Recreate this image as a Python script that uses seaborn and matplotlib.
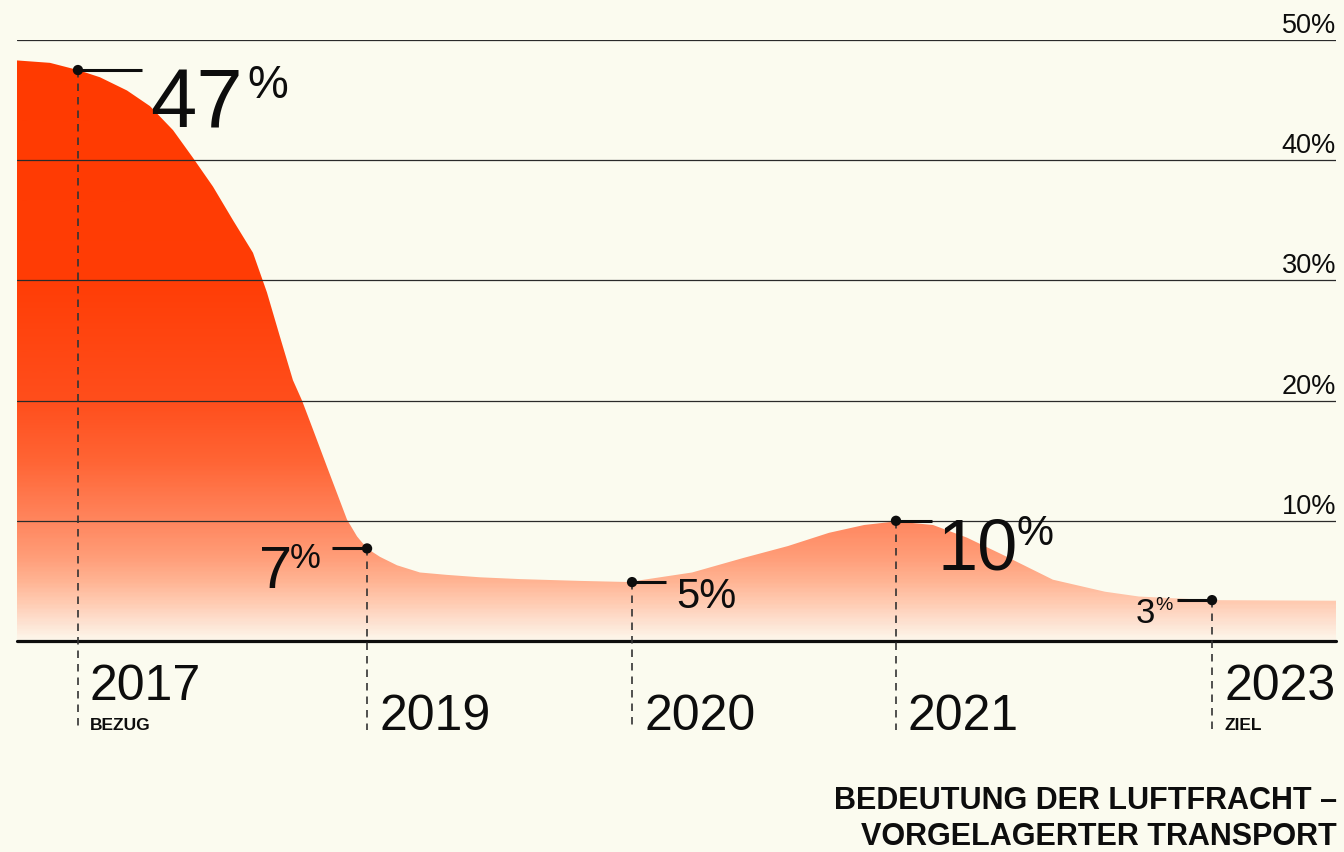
import numpy as np
import pandas as pd
import matplotlib
matplotlib.use("Agg")
import matplotlib.pyplot as plt
import seaborn as sns
from matplotlib.colors import LinearSegmentedColormap

# ---------------- data ----------------
years = ["2017", "2019", "2020", "2021", "2023"]
year_notes = ["BEZUG", "", "", "", "ZIEL"]
year_pos = [4.62, 26.54, 46.63, 66.64, 90.60]          # position on the (irregular) time axis, 0-100
point_values = [47.5, 7.7, 4.9, 10.0, 3.4]              # share in %
value_labels = ["47", "7", "5", "10", "3"]

curve_pos = [0.0, 2.50, 4.62, 6.29, 8.34, 10.08, 11.83, 13.34, 14.86, 16.38, 17.89,
             18.95, 19.94, 20.92, 21.61, 22.44, 23.50, 24.26, 25.02, 25.78, 26.54,
             27.52, 28.81, 30.55, 32.60, 35.10, 38.14, 42.68, 46.63, 47.23, 51.18,
             55.04, 58.45, 61.56, 64.22, 66.64, 69.45, 72.02, 74.68, 78.54, 82.49,
             85.06, 90.60, 100.0]
curve_values = [48.3, 48.1, 47.5, 46.9, 45.8, 44.5, 42.5, 40.2, 37.8, 35.0, 32.3,
                29.0, 25.3, 21.7, 20.0, 17.6, 14.5, 12.3, 10.1, 8.7, 7.7,
                7.0, 6.3, 5.7, 5.5, 5.3, 5.15, 5.0, 4.9, 5.05, 5.7,
                6.9, 7.9, 9.0, 9.65, 9.95, 9.65, 8.6, 7.2, 5.1, 4.1,
                3.7, 3.4, 3.35]

grid_values = [10, 20, 30, 40, 50]
grid_labels = ["10%", "20%", "30%", "40%", "50%"]
title_lines = ["BEDEUTUNG DER LUFTFRACHT –", "VORGELAGERTER TRANSPORT"]

# ---------------- style ----------------
BG = "#FBFBEF"
INK = "#0d0d0d"
W, H = 1344, 852

sns.set_theme(style="white", rc={"figure.facecolor": BG, "axes.facecolor": BG})
plt.rcParams["font.family"] = ["Liberation Sans", "DejaVu Sans"]

fig = plt.figure(figsize=(W / 100, H / 100), dpi=100)
ax_left, ax_right, ax_top_px, ax_base_px = 17, 1336, 40, 641
ax = fig.add_axes([ax_left / W, (H - ax_base_px) / H, (ax_right - ax_left) / W,
                   (ax_base_px - ax_top_px) / H])
ax.set_xlim(0, 100)
ax.set_ylim(0, 50)
ax.set_facecolor(BG)
for s in ax.spines.values():
    s.set_visible(False)
px_per_unit = (ax_base_px - ax_top_px) / 50.0
px_per_xunit = (ax_right - ax_left) / 100.0

df_curve = pd.DataFrame({"pos": curve_pos, "value": curve_values})
df_pts = pd.DataFrame({"pos": year_pos, "value": point_values, "year": years})

# gradient area
cmap = LinearSegmentedColormap.from_list("grad", [
    (0.00, "#FDF6EA"), (0.03, "#FEE0CF"), (0.06, "#FFCCB3"), (0.10, "#FFB291"),
    (0.14, "#FF9C77"), (0.20, "#FF855D"), (0.30, "#FF6434"), (0.40, "#FF4E1C"),
    (0.60, "#FF3D06"), (1.00, "#FF3A00")])
poly = ax.fill_between(df_curve["pos"], 0, df_curve["value"], color="none", lw=0)
grad = np.linspace(0, 1, 400).reshape(-1, 1)
im = ax.imshow(grad, extent=(0, 100, 0, 50), origin="lower", aspect="auto",
               cmap=cmap, zorder=1, interpolation="bilinear")
im.set_clip_path(poly.get_paths()[0], transform=ax.transData)
ax.set_xlim(0, 100)
ax.set_ylim(0, 50)

# gridlines + labels
for gv, gl in zip(grid_values, grid_labels):
    ax.axhline(gv, color="#2a2a2a", lw=0.9, zorder=2)
    ax.annotate(gl, xy=(1, gv), xycoords=("axes fraction", "data"),
                xytext=(0, 7), textcoords="offset pixels",
                ha="right", va="baseline", fontsize=19.5, color=INK)
ax.axhline(0, color=INK, lw=2.3, zorder=3, clip_on=False)

# dashed drop lines
drop_bottom = -89 / px_per_unit
for x, v in zip(year_pos, point_values):
    ax.plot([x, x], [v, drop_bottom], color="#333333", lw=1.2,
            dashes=(4.5, 3.6), zorder=3, clip_on=False)

# dots
sns.scatterplot(data=df_pts, x="pos", y="value", color=INK, s=55,
                edgecolor="none", ax=ax, zorder=5, legend=False, clip_on=False)
ax.set_xlabel("")
ax.set_ylabel("")
ax.set_xticks([])
ax.set_yticks([])

# value labels: leader length, number size/offset/align, percent size/offset/align
label_style = [
    dict(lead=64, ns=60, no=(72, -57), nha="left", ps=33, po=(169, -28), pha="left"),
    dict(lead=-35, ns=43, no=(-75, -40), nha="right", ps=25, po=(-46, -20), pha="right"),
    dict(lead=34, ns=30, no=(44, -26), nha="left", ps=None),
    dict(lead=36, ns=52, no=(42, -49), nha="left", ps=30, po=(121, -24), pha="left"),
    dict(lead=-35, ns=25, no=(-57, -23), nha="right", ps=14, po=(-39, -10), pha="right"),
]
for x, v, lab, st in zip(year_pos, point_values, value_labels, label_style):
    lead_end = x + st["lead"] / px_per_xunit
    ax.plot([x, lead_end], [v, v], color=INK, lw=2.2, zorder=4, clip_on=False,
            solid_capstyle="butt")
    txt = lab if st["ps"] is not None else lab + "%"
    ax.annotate(txt, xy=(x, v), xytext=st["no"], textcoords="offset pixels",
                ha=st["nha"], va="baseline", fontsize=st["ns"], color=INK, zorder=6)
    if st["ps"] is not None:
        ax.annotate("%", xy=(x, v), xytext=st["po"], textcoords="offset pixels",
                    ha=st["pha"], va="baseline", fontsize=st["ps"], color=INK, zorder=6)

# year labels
for x, yr, note in zip(year_pos, years, year_notes):
    if note:
        ax.annotate(yr, xy=(x, 0), xytext=(12, -59), textcoords="offset pixels",
                    ha="left", va="baseline", fontsize=36, color=INK)
        ax.annotate(note, xy=(x, 0), xytext=(12, -89), textcoords="offset pixels",
                    ha="left", va="baseline", fontsize=12.5, fontweight="bold", color=INK)
    else:
        ax.annotate(yr, xy=(x, 0), xytext=(12, -89), textcoords="offset pixels",
                    ha="left", va="baseline", fontsize=36, color=INK)

# title
fig.text(1337 / W, 1 - 809 / H, title_lines[0], ha="right", va="baseline",
         fontsize=22, fontweight="bold", color=INK)
fig.text(1337 / W, 1 - 845 / H, title_lines[1], ha="right", va="baseline",
         fontsize=22, fontweight="bold", color=INK)

fig.savefig("out.png", dpi=100, facecolor=BG)
